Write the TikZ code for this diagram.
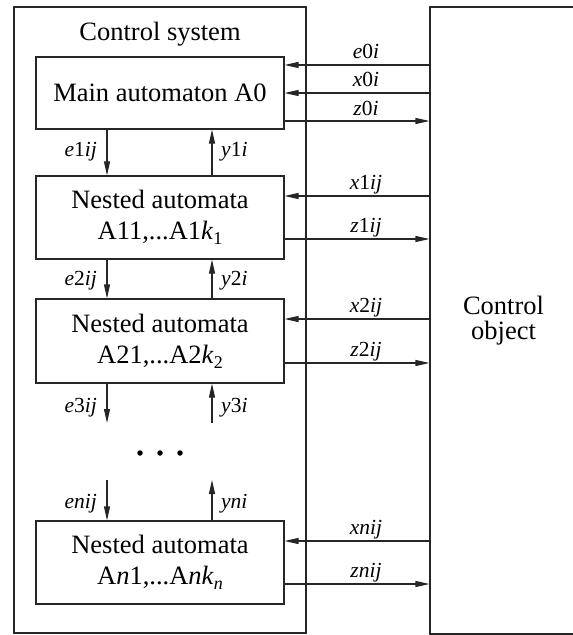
\documentclass[tikz,border=0pt]{standalone}
\usepackage{fontspec}
\setmainfont{Liberation Serif}
\usetikzlibrary{arrows.meta}
\newcommand\bigf{\fontsize{26.5bp}{31bp}\selectfont}
\newcommand\objf{\fontsize{26.5bp}{25bp}\selectfont}
\newcommand\labf{\fontsize{21.5bp}{24bp}\selectfont}
\newcommand\lsub[1]{\raisebox{-5bp}{\fontsize{18bp}{18bp}\selectfont #1}}
\begin{document}
\begin{tikzpicture}[x=1bp,y=-1bp,
 box/.style={draw=black!85, line width=1.1bp, inner sep=0pt, align=center, font=\bigf},
 arr/.style={draw=black!85, line width=1.1bp, -{Triangle[length=14bp,width=6bp]}},
 lab/.style={font=\labf, inner sep=0pt, anchor=base},
 dotn/.style={circle, fill=black, inner sep=0pt, minimum size=5.5bp}]
\useasboundingbox (0,0) rectangle (573,635);
\clip (0,0) rectangle (573,635);
% outer boxes
\node[box, minimum width=292bp, minimum height=626bp] (sys) at (160,320) {};
\node[font=\bigf, anchor=base, inner sep=0pt] (title) at (160,40.5) {Control system};
\node[box, font=\objf, minimum width=147bp, minimum height=627bp] (obj) at (503.5,320.5) {Control\\object};
% inner boxes
\node[box, minimum width=248bp, minimum height=72bp] (main) at (160,93) {Main automaton A0};
\node[box, minimum width=248bp, minimum height=83bp] (n1) at (160,217.5) {Nested automata\\A11,...A1\textit{k}\lsub{1}};
\node[box, minimum width=248bp, minimum height=84bp] (n2) at (160,341) {Nested automata\\A21,...A2\textit{k}\lsub{2}};
\node[box, minimum width=248bp, minimum height=83bp] (nn) at (160,562.5) {Nested automata\\A\textit{n}1,...A\textit{nk}\lsub{\textit{n}}};
% vertical connectors
\coordinate (ex) at (107,0);
\coordinate (yx) at (212,0);
\coordinate (e3end) at (107,423);
\coordinate (y3start) at (212,423);
\coordinate (enstart) at (107,480);
\coordinate (ynend) at (212,480);
\draw[arr] (main.south -| ex) -- (n1.north -| ex);
\draw[arr] (n1.north -| yx) -- (main.south -| yx);
\draw[arr] (n1.south -| ex) -- (n2.north -| ex);
\draw[arr] (n2.north -| yx) -- (n1.south -| yx);
\draw[arr] (n2.south -| ex) -- (e3end);
\draw[arr] (y3start) -- (n2.south -| yx);
\draw[arr] (enstart) -- (nn.north -| ex);
\draw[arr] (nn.north -| yx) -- (ynend);
\node[lab, anchor=base east] (le1) at (97,157) {\textit{e}1\textit{ij}};
\node[lab, anchor=base west] (ly1) at (221,157) {\textit{y}1\textit{i}};
\node[lab, anchor=base east] (le2) at (97,285) {\textit{e}2\textit{ij}};
\node[lab, anchor=base west] (ly2) at (221,285) {\textit{y}2\textit{i}};
\node[lab, anchor=base east] (le3) at (97,412) {\textit{e}3\textit{ij}};
\node[lab, anchor=base west] (ly3) at (221,412) {\textit{y}3\textit{i}};
\node[lab, anchor=base east] (len) at (97,508) {\textit{enij}};
\node[lab, anchor=base west] (lyn) at (221,508) {\textit{yni}};
% dots
\node[dotn] (d1) at (140,453) {};
\node[dotn] (d2) at (160,453) {};
\node[dotn] (d3) at (180,453) {};
% horizontal connectors
\coordinate (h1) at (0,65);
\coordinate (h2) at (0,93);
\coordinate (h3) at (0,121);
\coordinate (h4) at (0,196);
\coordinate (h5) at (0,239);
\coordinate (h6) at (0,319);
\coordinate (h7) at (0,363);
\coordinate (h8) at (0,541);
\coordinate (h9) at (0,584);
\draw[arr] (obj.west |- h1) -- (main.east |- h1);
\draw[arr] (obj.west |- h2) -- (main.east |- h2);
\draw[arr] (main.east |- h3) -- (obj.west |- h3);
\draw[arr] (obj.west |- h4) -- (n1.east |- h4);
\draw[arr] (n1.east |- h5) -- (obj.west |- h5);
\draw[arr] (obj.west |- h6) -- (n2.east |- h6);
\draw[arr] (n2.east |- h7) -- (obj.west |- h7);
\draw[arr] (obj.west |- h8) -- (nn.east |- h8);
\draw[arr] (nn.east |- h9) -- (obj.west |- h9);
\node[lab] (le0) at (366,59) {\textit{e}0\textit{i}};
\node[lab] (lx0) at (366,87) {\textit{x}0\textit{i}};
\node[lab] (lz0) at (366,115.5) {\textit{z}0\textit{i}};
\node[lab] (lx1) at (366,189.5) {\textit{x}1\textit{ij}};
\node[lab] (lz1) at (366,232.5) {\textit{z}1\textit{ij}};
\node[lab] (lx2) at (366,312.5) {\textit{x}2\textit{ij}};
\node[lab] (lz2) at (366,356.5) {\textit{z}2\textit{ij}};
\node[lab] (lxn) at (366,534.5) {\textit{xnij}};
\node[lab] (lzn) at (366,577.5) {\textit{znij}};
\end{tikzpicture}
\end{document}
